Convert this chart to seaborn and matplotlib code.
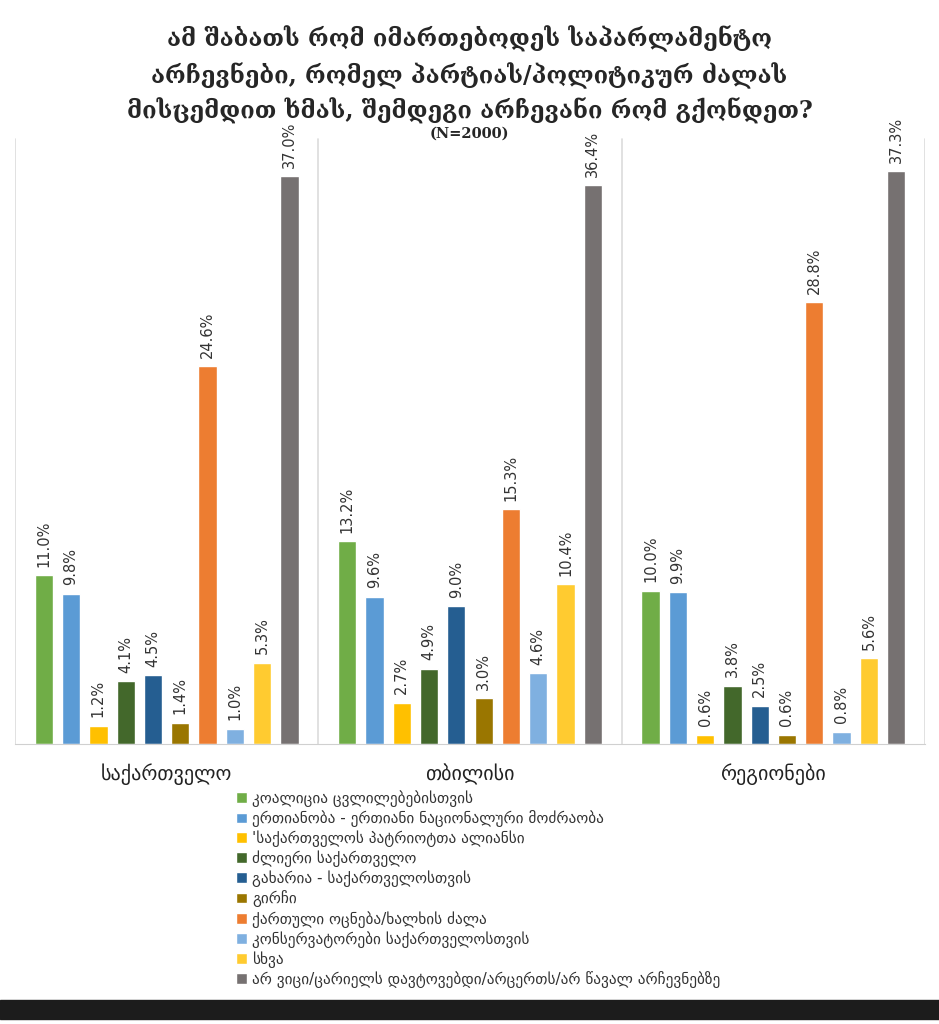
import pandas as pd
import matplotlib.pyplot as plt
import seaborn as sns
from matplotlib.patches import Rectangle

# data
regions = ["საქართველო", "თბილისი", "რეგიონები"]
parties = [
    "კოალიცია ცვლილებებისთვის",
    "ერთიანობა - ერთიანი ნაციონალური მოძრაობა",
    "'საქართველოს პატრიოტთა ალიანსი",
    "ძლიერი საქართველო",
    "გახარია - საქართველოსთვის",
    "გირჩი",
    "ქართული ოცნება/ხალხის ძალა",
    "კონსერვატორები საქართველოსთვის",
    "სხვა",
    "არ ვიცი/ცარიელს დავტოვებდი/არცერთს/არ წავალ არჩევნებზე",
]
georgia = [11.0, 9.8, 1.2, 4.1, 4.5, 1.4, 24.6, 1.0, 5.3, 37.0]
tbilisi = [13.2, 9.6, 2.7, 4.9, 9.0, 3.0, 15.3, 4.6, 10.4, 36.4]
other_regions = [10.0, 9.9, 0.6, 3.8, 2.5, 0.6, 28.8, 0.8, 5.6, 37.3]
colors = ["#70AD47", "#5B9BD5", "#FFC000", "#43682B", "#255E91",
          "#9A7600", "#ED7D31", "#7FB0E0", "#FFCB30", "#767171"]

rows = []
for reg, vals in zip(regions, [georgia, tbilisi, other_regions]):
    for p, v in zip(parties, vals):
        rows.append({"region": reg, "party": p, "value": v})
df = pd.DataFrame(rows)

sns.set_style("white")
plt.rcParams["font.family"] = ["DejaVu Sans"]

fig = plt.figure(figsize=(9.39, 10.24), dpi=100)
ax = fig.add_axes([15 / 939, 1 - 744 / 1024, 910 / 939, 614 / 1024])

sns.barplot(data=df, x="region", y="value", hue="party", order=regions,
            hue_order=parties, palette=colors, width=0.9, gap=0.33,
            saturation=1, legend=True, ax=ax)

ax.set_ylim(0, 40)
ax.set_xlim(-0.5, 2.5)
ax.set_xlabel("")
ax.set_ylabel("")
ax.set_yticks([])
ax.tick_params(axis="x", length=0, pad=14, labelsize=14.5, labelcolor="#222222")
for s in ["top", "left", "right"]:
    ax.spines[s].set_visible(False)
ax.spines["bottom"].set_color("#d0d0d0")
for xv in [-0.5, 0.5, 1.5, 2.5]:
    ax.axvline(xv, ymin=0, ymax=0.985, color="#dcdcdc", lw=1.2, zorder=0)

for cont in ax.containers:
    ax.bar_label(cont, labels=[f"{v:.1f}%" for v in cont.datavalues],
                 rotation=90, padding=6, fontsize=10.5, color="#333333")

handles, labels = ax.get_legend_handles_labels()
ax.get_legend().remove()
fig.legend(handles, labels, loc="upper left",
           bbox_to_anchor=(230 / 939, 1 - 784 / 1024), frameon=False,
           fontsize=11, handlelength=0.7, handleheight=0.7,
           handletextpad=0.35, labelspacing=0.22, borderaxespad=0,
           labelcolor="#333333")

title_font = ["DejaVu Serif", "DejaVu Sans"]
fig.text(0.5, 1 - 39 / 1024, "ამ შაბათს რომ იმართებოდეს საპარლამენტო",
         ha="center", va="center", fontsize=17, fontweight="bold",
         family=title_font)
fig.text(0.5, 1 - 76 / 1024, "არჩევნები, რომელ პარტიას/პოლიტიკურ ძალას",
         ha="center", va="center", fontsize=17, fontweight="bold",
         family=title_font)
fig.text(0.5, 1 - 111 / 1024, "მისცემდით ხმას, შემდეგი არჩევანი რომ გქონდეთ?",
         ha="center", va="center", fontsize=17, fontweight="bold",
         family=title_font)
fig.text(0.5, 1 - 134 / 1024, "(N=2000)", ha="center", va="center",
         fontsize=10.5, fontweight="bold", family=["DejaVu Serif"])

# dark band at the bottom of the screenshot
fig.patches.append(Rectangle((0, 5 / 1024), 1, 19 / 1024,
                             transform=fig.transFigure, color="#1c1c1c",
                             zorder=-1))

fig.savefig("out.png", dpi=100)
